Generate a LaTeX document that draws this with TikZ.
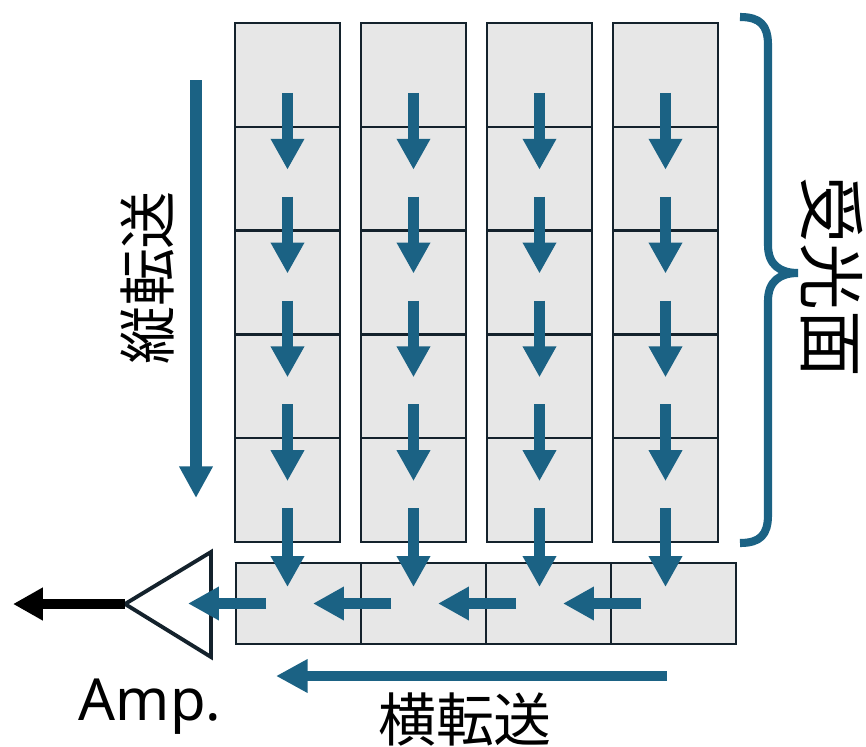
\documentclass[tikz,border=0pt]{standalone}
\usepackage{fontspec}
\setmainfont{Noto Sans}
\newfontfamily\jpfont{Noto Sans CJK JP}
\usetikzlibrary{arrows.meta,calc}
\definecolor{ccdblue}{RGB}{27,98,132}
\definecolor{celledge}{RGB}{20,34,44}
\definecolor{cellfill}{RGB}{231,231,231}

\begin{document}
\begin{tikzpicture}[x=0.02cm,y=-0.02cm,
    cell/.style={draw=celledge,fill=cellfill,line width=1.4pt,
      minimum width=2.1cm,minimum height=2.076cm,inner sep=0pt,outer sep=0pt},
    reg/.style={cell,minimum width=2.5cm,minimum height=1.62cm},
    mv/.style={ccdblue,line width=5.7pt,-{Triangle[width=18pt,length=17.6pt]}},
    big/.style={ccdblue,line width=6.5pt,-{Triangle[width=18pt,length=18pt]}},
    lbl/.style={font=\jpfont\fontsize{33}{38}\selectfont,inner sep=0pt}]
  \useasboundingbox (0,0) rectangle (866,747);
  % pixels of the light-receiving surface
  \foreach \i in {1,...,4}
    \foreach \j in {1,...,5}
      \node[cell] (c\i\j) at ({287.5+126*(\i-1)},{74.9+103.8*(\j-1)}) {};
  % horizontal register
  \foreach \i in {1,...,4}
    \node[reg] (r\i) at ({298.5+125*(\i-1)},603.5) {};
  % amplifier
  \draw[celledge,line width=2.2pt,fill=white] (211,552) -- (211,657)
    -- (125,604) -- cycle;
  \coordinate (amp) at (125,604); \coordinate (out) at (13,604);
  \draw[black,line width=5.2pt,-{Triangle[width=17.6pt,length=17pt]}] (amp) -- (out);
  % vertical transfer
  \foreach \i in {1,...,4} {
    \foreach \j [count=\k from 2] in {1,...,4}
      \draw[mv] ($(c\i\j.center)+(0,18)$) -- ($(c\i\k.center)+(0,-9)$);
    \draw[mv] ($(c\i5.center)+(0,18)$) -- ($(c\i5.center |- r\i.center)+(0,-16.5)$);
  }
  % horizontal transfer
  \foreach \i in {1,...,4}
    \draw[mv] ($(r\i.west)+(30,0)$) -- ($(r\i.west)+(-48,0)$);
  \coordinate (vtop) at (196,80); \coordinate (vbot) at (196,498);
  \draw[big] (vtop) -- (vbot);
  \coordinate (hright) at (667,676); \coordinate (hleft) at (276,676);
  \draw[big,line width=5.9pt] (hright) -- (hleft);
  % brace
  \draw[ccdblue,line width=4.6pt] (740,17) .. controls (760,17) and (768,25) .. (768,45)
    -- (768,245) .. controls (768,265) and (780,273) .. (798,273)
    .. controls (780,273) and (768,281) .. (768,301)
    -- (768,515) .. controls (768,535) and (760,543) .. (740,543);
  \node[lbl,rotate=90] (vlabel) at (147,278) {縦転送};
  \node[lbl] (hlabel) at (465,720) {横転送};
  \node[lbl,font=\jpfont\fontsize{38}{44}\selectfont,rotate=-90] (surf) at (832,277) {受光面};
  \node[font=\fontsize{33}{40}\selectfont,anchor=base,inner sep=0pt] (amplabel)
    at (150,720) {Amp.};
\end{tikzpicture}
\end{document}
